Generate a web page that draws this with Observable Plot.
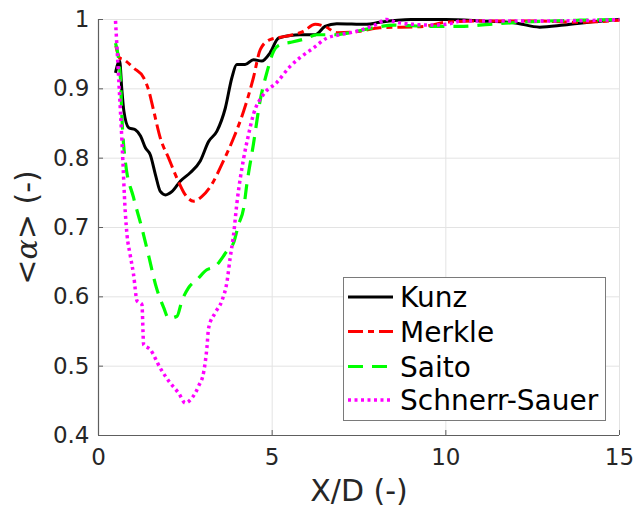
<!DOCTYPE html>
<html>
<head>
<meta charset="utf-8">
<script src="https://cdn.jsdelivr.net/npm/d3@7"></script>
<script src="https://cdn.jsdelivr.net/npm/@observablehq/plot@0.6"></script>
<style>
  html, body { margin: 0; padding: 0; background: white; }
  #wrap { position: relative; width: 634px; height: 508px; font-family: "DejaVu Sans", sans-serif; }
  #legend { position: absolute; left: 343px; top: 277px; }
</style>
</head>
<body>
<div id="wrap"></div>
<script>
const seriesNames = ["Kunz", "Merkle", "Saito", "Schnerr-Sauer"];
const xTicks = [0, 5, 10, 15];
const yTicks = [0.4, 0.5, 0.6, 0.7, 0.8, 0.9, 1];

const kunzX = [0.49, 0.55, 0.61, 0.67, 0.73, 0.87, 1.06, 1.21, 1.35, 1.49, 1.64, 1.78, 1.93, 2.12, 2.36, 2.64, 2.93, 3.17, 3.41, 3.65, 3.84, 3.98, 4.22, 4.46, 4.70, 4.94, 5.18, 5.52, 5.80, 6.24, 6.52, 6.86, 7.72, 8.10, 9.0, 10.0, 11.0, 12.0, 12.7, 13.4, 14.3, 15.0];
const kunzY = [0.923, 0.935, 0.94, 0.9, 0.868, 0.844, 0.841, 0.832, 0.815, 0.805, 0.776, 0.752, 0.747, 0.752, 0.767, 0.779, 0.796, 0.824, 0.839, 0.872, 0.916, 0.935, 0.935, 0.942, 0.94, 0.952, 0.973, 0.977, 0.978, 0.978, 0.99, 0.994, 0.993, 0.996, 1.0, 1.0, 0.998, 0.995, 0.989, 0.992, 0.997, 1.0];

const merkleX = [0.50, 0.60, 0.73, 1.01, 1.30, 1.45, 1.59, 1.78, 2.02, 2.26, 2.50, 2.74, 2.98, 3.26, 3.55, 3.89, 4.18, 4.46, 4.66, 4.94, 5.42, 5.90, 6.24, 6.52, 6.86, 7.53, 8.10, 9.35, 10.0, 11.0, 12.4, 13.85, 15.0];
const merkleY = [0.962, 0.945, 0.942, 0.93, 0.916, 0.897, 0.868, 0.829, 0.800, 0.771, 0.747, 0.738, 0.745, 0.762, 0.791, 0.829, 0.868, 0.916, 0.957, 0.971, 0.976, 0.983, 0.993, 0.990, 0.981, 0.983, 0.988, 0.99, 0.996, 0.998, 0.998, 0.996, 0.999];

const saitoX = [0.49, 0.63, 0.68, 0.77, 1.01, 1.25, 1.45, 1.64, 1.88, 2.02, 2.26, 2.40, 2.59, 2.84, 3.12, 3.36, 3.70, 3.89, 4.03, 4.18, 4.27, 4.46, 4.65, 4.85, 5.04, 5.23, 5.52, 6.0, 6.28, 6.81, 7.24, 7.91, 8.49, 9.54, 10.4, 11.26, 12.13, 13.85, 15.0];
const saitoY = [0.966, 0.916, 0.853, 0.796, 0.743, 0.699, 0.658, 0.618, 0.584, 0.569, 0.572, 0.594, 0.613, 0.625, 0.639, 0.644, 0.666, 0.678, 0.704, 0.728, 0.762, 0.820, 0.882, 0.924, 0.954, 0.964, 0.967, 0.973, 0.978, 0.978, 0.981, 0.988, 0.992, 0.99, 0.99, 0.993, 0.996, 0.999, 1.0];

const schnerrX = [0.49, 0.58, 0.68, 0.77, 0.82, 0.91, 1.01, 1.11, 1.25, 1.30, 1.49, 1.78, 2.06, 2.31, 2.50, 2.69, 2.88, 3.03, 3.12, 3.17, 3.36, 3.55, 3.70, 3.79, 3.89, 3.98, 4.18, 4.32, 4.46, 4.75, 5.13, 5.51, 5.80, 6.19, 6.57, 6.95, 7.43, 8.0, 8.29, 8.58, 9.06, 9.54, 10.0, 10.5, 12.0, 13.4, 15.0];
const schnerrY = [0.998, 0.916, 0.82, 0.723, 0.69, 0.661, 0.632, 0.594, 0.589, 0.531, 0.524, 0.497, 0.476, 0.461, 0.447, 0.454, 0.471, 0.492, 0.526, 0.555, 0.577, 0.594, 0.622, 0.656, 0.69, 0.733, 0.80, 0.834, 0.863, 0.892, 0.909, 0.932, 0.945, 0.959, 0.973, 0.978, 0.983, 0.993, 1.0, 0.996, 0.993, 0.992, 0.993, 0.998, 0.998, 0.998, 1.0];

const colors = ["#000000", "#ff0000", "#00ff00", "#ff00ff"];
const dashes = [null, "15,5,6,5", "15,9", "3,3.5"];
const widths = [3, 3, 3.2, 3.5];

const rows = (xs, ys) => xs.map((x, i) => ({x, y: ys[i]}));
const data = [rows(kunzX, kunzY), rows(merkleX, merkleY), rows(saitoX, saitoY), rows(schnerrX, schnerrY)];

const axisColor = "#262626";
const chart = Plot.plot({
  width: 634,
  height: 508,
  marginLeft: 98,
  marginRight: 15,
  marginTop: 19,
  marginBottom: 73,
  x: {domain: [0, 15]},
  y: {domain: [0.4, 1]},
  style: {fontFamily: "DejaVu Sans, sans-serif", background: "white", color: axisColor},
  marks: [
    Plot.gridX(xTicks, {stroke: "#e3e3e3", strokeOpacity: 1, strokeWidth: 1}),
    Plot.gridY(yTicks, {stroke: "#e3e3e3", strokeOpacity: 1, strokeWidth: 1}),
    ...data.map((d, i) => Plot.line(d, {
      x: "x", y: "y", curve: "monotone-x",
      stroke: colors[i], strokeWidth: widths[i],
      strokeDasharray: dashes[i], strokeLinecap: "butt", strokeLinejoin: "round"
    })),
    Plot.ruleX([0], {stroke: "#5e5e5e", strokeWidth: 1.2}),
    Plot.ruleY([0.4], {stroke: "#5e5e5e", strokeWidth: 1.2}),
    Plot.axisX(xTicks, {tickSize: -5, tickPadding: 18, fontSize: 23, stroke: "#5e5e5e", fill: axisColor,
      label: "X/D (-)", labelAnchor: "center", labelOffset: 65, labelArrow: "none"}),
    Plot.axisY(yTicks, {tickSize: -5, tickPadding: 14, fontSize: 23, stroke: "#5e5e5e", fill: axisColor,
      tickFormat: d => String(d),
      label: "<α> (-)", labelAnchor: "center", labelOffset: 83, labelArrow: "none"})
  ]
});

d3.select(chart).selectAll("[aria-label$='axis label'] text").style("font-size", "30px");
// italic alpha in the y label, as in the reference
d3.select(chart).selectAll("[aria-label='y-axis label'] text").each(function() {
  const t = d3.select(this);
  t.text("");
  t.append("tspan").text("<");
  t.append("tspan").style("font-family", "DejaVu Serif, serif").style("font-style", "italic").text("α");
  t.append("tspan").text("> (-)");
});

const wrap = document.getElementById("wrap");
wrap.appendChild(chart);

// legend overlay
const lw = 263, lh = 144;
const leg = d3.select(wrap).append("svg").attr("id", "legend")
  .attr("width", lw).attr("height", lh);
leg.append("rect").attr("x", 0.5).attr("y", 0.5).attr("width", lw - 1).attr("height", lh - 1)
  .attr("fill", "white").attr("stroke", "#7a7a7a").attr("stroke-width", 1);
const baselines = [30, 64.5, 99.5, 133];
seriesNames.forEach((name, i) => {
  const ly = baselines[i] - 10;
  const ln = leg.append("line").attr("x1", 5).attr("x2", 50).attr("y1", ly).attr("y2", ly)
    .attr("stroke", colors[i]).attr("stroke-width", widths[i]);
  if (dashes[i]) ln.attr("stroke-dasharray", dashes[i]);
  leg.append("text").attr("x", 57).attr("y", baselines[i])
    .attr("font-family", "DejaVu Sans, sans-serif").attr("font-size", 28)
    .attr("fill", "#000").text(name);
});
</script>
</body>
</html>
